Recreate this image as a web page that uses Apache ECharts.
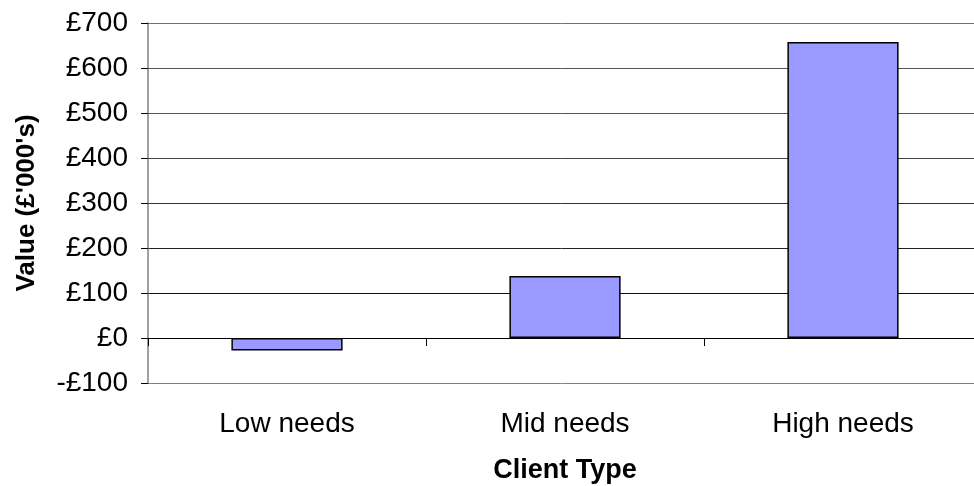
<!DOCTYPE html>
<html>
<head>
<meta charset="utf-8">
<script src="https://cdn.jsdelivr.net/npm/echarts@6/dist/echarts.min.js"></script>
<style>
html,body{margin:0;padding:0;background:#fff;}
#chart{width:974px;height:486px;}
</style>
</head>
<body>
<div id="chart"></div>
<script>
const categories = ['Low needs', 'Mid needs', 'High needs'];
const values = [-28, 138, 658];
const yTicks = { min: -100, max: 700, interval: 100 };

const FONT = '"Liberation Sans", Arial, sans-serif';
const chart = echarts.init(document.getElementById('chart'), null, { renderer: 'canvas' });

chart.setOption({
  animation: false,
  backgroundColor: '#ffffff',
  grid: { left: 148, top: 23, width: 834, height: 360, containLabel: false, outerBoundsMode: 'none' },
  xAxis: [
    {
      type: 'category',
      data: categories,
      position: 'bottom',
      axisLine: { show: false, onZero: false },
      axisTick: { show: false },
      axisLabel: { color: '#000', fontFamily: FONT, fontSize: 28, margin: 27 },
      name: 'Client Type',
      nameLocation: 'middle',
      nameGap: 74,
      nameTextStyle: { color: '#000', fontFamily: FONT, fontSize: 27, fontWeight: 'bold' },
      splitLine: { show: false }
    },
    {
      type: 'category',
      data: categories,
      position: 'bottom',
      axisLine: { show: true, onZero: true, lineStyle: { color: '#000', width: 1 } },
      axisTick: { show: true, length: 8, lineStyle: { color: '#000' } },
      axisLabel: { show: false },
      splitLine: { show: false }
    }
  ],
  yAxis: {
    type: 'value',
    min: yTicks.min,
    max: yTicks.max,
    interval: yTicks.interval,
    axisLine: { show: true, lineStyle: { color: '#808080', width: 1.5 } },
    axisTick: { show: true, length: 7, lineStyle: { color: '#000' } },
    axisLabel: {
      color: '#000', fontFamily: FONT, fontSize: 28, margin: 20,
      formatter: v => (v < 0 ? '-£' + Math.abs(v) : '£' + v)
    },
    splitLine: {
      show: true,
      lineStyle: { color: ['#808080', '#000', '#111', '#222', '#333', '#444', '#555', '#555', '#707070'], width: 1 }
    },
    name: "Value (£'000's)",
    nameLocation: 'middle',
    nameRotate: 90,
    nameGap: 108,
    nameTextStyle: { color: '#000', fontFamily: FONT, fontSize: 26, fontWeight: 'bold' }
  },
  series: [{
    type: 'bar',
    xAxisIndex: 0,
    data: values,
    barWidth: '40%',
    itemStyle: { color: '#9999FF', borderColor: '#000', borderWidth: 1.5 }
  }]
});
</script>
</body>
</html>
